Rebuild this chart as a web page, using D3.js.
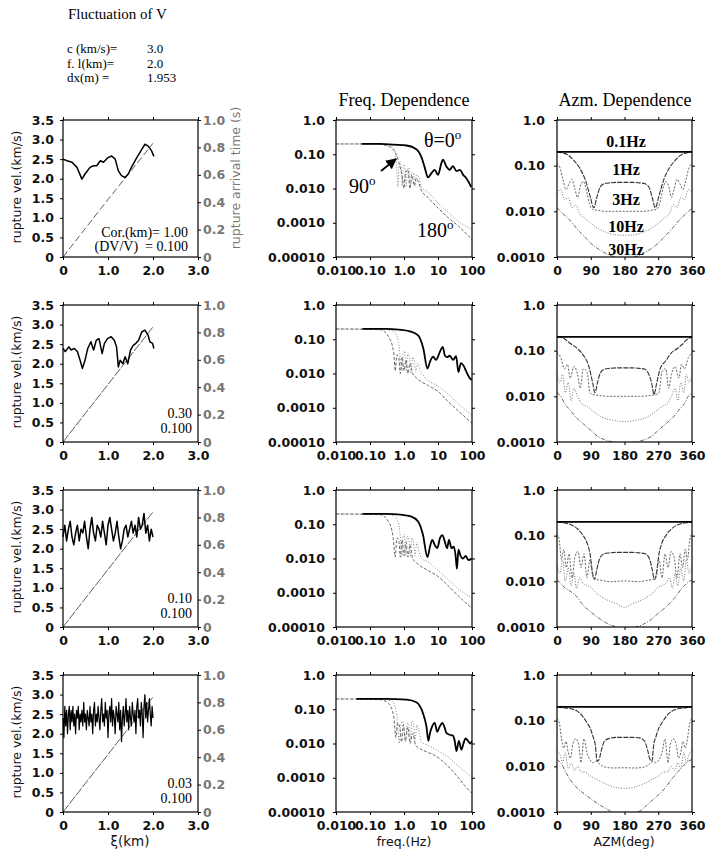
<!DOCTYPE html>
<html>
<head>
<meta charset="utf-8">
<script src="https://cdn.jsdelivr.net/npm/d3@7"></script>
<style>
    body { margin: 0; padding: 0; background: #fff; }
    svg text { font-family: "DejaVu Sans", sans-serif; fill: #111; }
    .serif { font-family: "Liberation Serif", "Times New Roman", serif; fill: #000; }
</style>
</head>
<body>
<svg id="fig" width="717" height="853"></svg>
<script>
// ---- header values ----
var paramNames = ["c (km/s)=", "f. l(km)=", "dx(m) ="];
var paramValues = ["3.0", "2.0", "1.953"];
var corLengths = ["1.00", "0.30", "0.10", "0.03"];
var dvOverV = "0.100";

// ---- rupture velocity (xi km, v km/s) ----
var vel1 = [[0,2.5],[0.09,2.46],[0.2,2.42],[0.31,2.29],[0.42,1.99],[0.49,2.12],[0.6,2.29],[0.68,2.33],
    [0.75,2.33],[0.83,2.46],[0.9,2.42],[1.0,2.54],[1.08,2.58],[1.16,2.5],[1.23,2.2],[1.3,2.08],
    [1.38,2.03],[1.45,2.12],[1.52,2.29],[1.64,2.54],[1.75,2.75],[1.82,2.88],[1.89,2.84],[1.97,2.71],[2.02,2.57]];
var vel2 = [[0,2.39],[0.05,2.31],[0.13,2.43],[0.18,2.35],[0.25,2.39],[0.32,2.31],[0.38,2.09],[0.43,1.88],
    [0.49,2.09],[0.55,2.39],[0.62,2.56],[0.68,2.35],[0.74,2.6],[0.8,2.64],[0.87,2.26],[0.92,2.52],
    [0.99,2.64],[1.07,2.69],[1.14,2.6],[1.19,2.43],[1.23,1.92],[1.27,2.09],[1.33,2.0],[1.38,2.18],
    [1.44,2.0],[1.5,2.35],[1.56,2.47],[1.62,2.52],[1.68,2.6],[1.75,2.81],[1.82,2.86],[1.89,2.73],
    [1.93,2.56],[1.99,2.52],[2.02,2.39]];
var vel3Step = 0.04;
var vel3 = [2.3,2.6,2.2,2.5,2.7,2.3,2.1,2.4,2.6,2.2,
    2.5,2.4,2.7,2.3,2.0,2.5,2.8,2.4,2.2,2.6,
    2.5,2.3,2.7,2.4,2.1,2.6,2.8,2.5,2.2,2.4,
    2.7,2.3,2.0,2.2,2.5,2.6,2.3,2.5,2.7,2.4,
    2.6,2.3,2.8,2.5,2.6,2.9,2.4,2.6,2.2,2.5,2.3];
var vel4Step = 0.02;
var vel4 = [2.4,1.9,2.7,2.2,2.6,2.0,2.5,2.7,2.1,2.6,
    2.3,2.7,2.2,2.5,2.0,2.6,2.4,2.7,2.1,2.5,
    2.3,2.6,2.2,2.8,2.3,2.5,2.1,2.6,2.4,2.2,
    2.7,2.3,2.5,2.0,2.6,2.8,2.2,2.5,2.3,2.7,
    2.4,2.1,2.6,2.9,2.3,2.5,2.2,2.8,2.4,2.6,
    1.9,2.5,2.7,2.3,2.9,2.2,2.6,2.4,2.0,2.7,
    2.5,2.3,2.8,2.1,2.6,1.8,2.4,2.7,2.2,2.5,
    2.9,2.3,2.6,2.1,2.7,2.4,2.2,2.8,2.5,2.3,
    2.6,2.0,2.7,2.9,2.4,2.6,2.2,2.8,2.5,1.9,
    2.7,3.0,2.4,2.8,2.3,2.6,2.9,2.5,2.2,2.7,2.4];

// rupture arrival time (s) along xi
var arrival1 = [[0,0],[0.5,0.21],[1.0,0.42],[1.5,0.625],[2.0,0.83]];
var arrival2 = [[0,0],[0.5,0.21],[1.0,0.42],[1.5,0.63],[2.0,0.84]];
var arrival3 = [[0,0],[0.5,0.21],[1.0,0.42],[1.5,0.63],[2.0,0.84]];
var arrival4 = [[0,0],[0.5,0.21],[1.0,0.42],[1.5,0.63],[2.0,0.84]];

// ---- frequency dependence (Hz, amplitude) ----
var f0_1 = [[0.057,0.2],[0.2,0.2],[0.5,0.19],[1.2,0.18],[2.3,0.14],[3.3,0.08],[4.1,0.04],[5.1,0.021],
    [6.4,0.028],[8,0.035],[10,0.025],[12.6,0.055],[14,0.07],[17.6,0.044],[22,0.035],[27.5,0.045],
    [35,0.032],[44,0.035],[55,0.025],[68,0.02],[95,0.011]];
var f90_1 = [[0.01,0.2],[0.1,0.2],[0.35,0.19],[0.55,0.12],[0.62,0.03],[0.66,0.011],[0.72,0.05],[0.8,0.06],
    [0.88,0.012],[0.95,0.045],[1.05,0.05],[1.15,0.011],[1.25,0.035],[1.4,0.04],[1.55,0.012],[1.7,0.03],
    [1.9,0.028],[2.1,0.012],[2.4,0.025],[2.8,0.02],[3.2,0.011],[5,0.008],[10,0.0038],[20,0.002],
    [40,0.0011],[100,0.00063]];
var f180_1 = [[0.01,0.2],[0.15,0.2],[0.4,0.16],[0.7,0.06],[0.9,0.02],[1.0,0.01],[1.1,0.03],[1.3,0.035],
    [1.5,0.01],[1.7,0.025],[2.0,0.012],[2.3,0.02],[2.7,0.015],[3.2,0.009],[5,0.0055],[10,0.0027],
    [20,0.0014],[40,0.0008],[100,0.00032]];

var f0_2 = [[0.06,0.2],[0.3,0.2],[0.7,0.19],[1.5,0.17],[2.6,0.13],[3.7,0.054],[4.9,0.014],[5.8,0.022],
    [7.2,0.031],[8.7,0.025],[11.5,0.044],[13.8,0.06],[16,0.033],[18.6,0.03],[22,0.033],[28,0.025],
    [34,0.032],[40,0.011],[47,0.02],[56,0.017],[69,0.011],[87,0.0072],[98,0.0065]];
var f90_2 = [[0.01,0.2],[0.2,0.2],[0.5,0.17],[0.7,0.08],[0.8,0.02],[0.88,0.012],[0.95,0.04],[1.05,0.045],
    [1.15,0.012],[1.3,0.04],[1.45,0.03],[1.6,0.01],[1.8,0.03],[2.0,0.025],[2.2,0.011],[2.5,0.02],
    [3,0.012],[4,0.008],[10,0.0042],[20,0.0025],[40,0.0013],[100,0.0006]];
var f180_2 = [[0.01,0.2],[0.2,0.19],[0.35,0.12],[0.5,0.04],[0.55,0.012],[0.62,0.035],[0.7,0.03],
    [0.78,0.01],[0.88,0.03],[1.0,0.012],[1.15,0.025],[1.3,0.01],[1.5,0.02],[1.8,0.01],[2.5,0.007],
    [5,0.0045],[10,0.003],[20,0.0015],[40,0.0008],[100,0.00035]];

var f0_3 = [[0.06,0.2],[0.3,0.2],[0.8,0.19],[1.6,0.17],[2.6,0.12],[3.6,0.05],[4.9,0.011],[5.8,0.022],
    [6.8,0.035],[8,0.025],[9.5,0.02],[11.5,0.04],[13.5,0.048],[16,0.03],[18.5,0.02],[21,0.035],
    [25,0.02],[29,0.022],[33,0.012],[36,0.005],[40,0.018],[46,0.012],[55,0.01],[65,0.012],[78,0.009],[98,0.01]];
var f90_3 = [[0.01,0.2],[0.2,0.2],[0.5,0.18],[0.7,0.1],[0.8,0.03],[0.86,0.011],[0.93,0.04],[1.02,0.05],
    [1.12,0.012],[1.25,0.045],[1.4,0.035],[1.55,0.011],[1.7,0.04],[1.9,0.03],[2.1,0.012],[2.4,0.03],
    [2.8,0.015],[3.3,0.01],[5,0.008],[10,0.0045],[20,0.0024],[40,0.0013],[100,0.0007]];
var f180_3 = [[0.01,0.2],[0.2,0.19],[0.35,0.12],[0.48,0.04],[0.55,0.011],[0.62,0.04],[0.7,0.035],
    [0.78,0.011],[0.88,0.035],[1.0,0.012],[1.15,0.03],[1.3,0.011],[1.5,0.025],[1.8,0.01],[2.5,0.007],
    [5,0.0045],[10,0.003],[20,0.0016],[40,0.0008],[100,0.00035]];

var f0_4 = [[0.04,0.2],[0.3,0.2],[1.2,0.19],[2.3,0.16],[3.6,0.077],[4.6,0.03],[5.2,0.012],[5.8,0.02],
    [6.6,0.03],[8,0.04],[9.5,0.022],[11,0.03],[13.5,0.04],[15.5,0.03],[17.8,0.02],[22,0.018],
    [27.5,0.017],[31,0.012],[35,0.006],[41,0.012],[49,0.0066],[56,0.01],[65,0.014],[76,0.012],[90,0.01],[100,0.012]];
var f90_4 = [[0.01,0.2],[0.2,0.2],[0.45,0.17],[0.6,0.08],[0.68,0.02],[0.72,0.01],[0.8,0.03],[0.9,0.045],
    [1.0,0.03],[1.1,0.011],[1.25,0.04],[1.4,0.03],[1.55,0.011],[1.7,0.045],[1.9,0.04],[2.1,0.012],
    [2.4,0.035],[2.8,0.02],[3.3,0.011],[5,0.009],[8,0.007],[12,0.0055],[20,0.004],[30,0.0028],
    [50,0.0018],[100,0.001]];
var f180_4 = [[0.01,0.2],[0.2,0.19],[0.35,0.15],[0.5,0.06],[0.58,0.015],[0.65,0.04],[0.75,0.03],
    [0.85,0.011],[0.95,0.035],[1.1,0.012],[1.3,0.03],[1.5,0.01],[1.8,0.02],[2.2,0.009],[3,0.007],
    [5,0.0055],[8,0.0045],[15,0.0028],[25,0.0017],[40,0.001],[60,0.0006],[100,0.00035]];

// ---- azimuth dependence (deg, amplitude) ----
var az01_all = [[0,0.2],[360,0.2]];

var az1_1 = [[0,0.2],[15,0.19],[30,0.17],[45,0.13],[60,0.09],[75,0.05],[88,0.022],[98,0.012],[106,0.02],
    [115,0.034],[125,0.04],[140,0.042],[160,0.043],[180,0.043],[200,0.043],[220,0.042],[235,0.04],
    [245,0.034],[254,0.02],[262,0.012],[272,0.022],[285,0.05],[300,0.09],[315,0.13],[330,0.17],[345,0.19],[360,0.2]];
var az3_1 = [[0,0.11],[8,0.09],[16,0.05],[24,0.03],[32,0.04],[40,0.05],[48,0.03],[55,0.02],[62,0.035],
    [70,0.045],[78,0.03],[86,0.015],[95,0.011],[110,0.0105],[130,0.01],[150,0.01],[180,0.01],[210,0.01],
    [230,0.01],[250,0.0105],[265,0.011],[274,0.015],[282,0.03],[290,0.045],[298,0.035],[305,0.02],
    [312,0.03],[320,0.05],[328,0.04],[336,0.03],[344,0.05],[352,0.09],[360,0.11]];
var az10_1 = [[0,0.025],[10,0.03],[20,0.018],[30,0.02],[40,0.012],[50,0.014],[60,0.009],[75,0.007],
    [90,0.0055],[110,0.0042],[130,0.0035],[150,0.0031],[180,0.003],[210,0.0031],[230,0.0035],
    [250,0.0042],[270,0.0055],[285,0.007],[300,0.009],[310,0.014],[320,0.012],[330,0.02],[340,0.018],
    [350,0.03],[360,0.025]];
var az30_1 = [[0,0.012],[15,0.009],[30,0.007],[45,0.005],[60,0.0036],[75,0.0027],[90,0.002],[110,0.0015],
    [130,0.0012],[155,0.001],[180,0.00095],[205,0.001],[230,0.0012],[250,0.0015],[270,0.002],[285,0.0027],
    [300,0.0036],[315,0.005],[330,0.007],[345,0.009],[360,0.012]];

var az1_2 = [[0,0.2],[15,0.19],[35,0.145],[55,0.11],[70,0.08],[85,0.045],[95,0.02],[101,0.012],[108,0.02],
    [115,0.032],[125,0.039],[140,0.041],[160,0.042],[180,0.042],[200,0.042],[220,0.041],[235,0.039],
    [245,0.03],[252,0.02],[259,0.011],[265,0.018],[275,0.04],[290,0.06],[305,0.09],[320,0.11],
    [335,0.14],[345,0.17],[360,0.2]];
var az3_2 = [[0,0.09],[10,0.07],[20,0.04],[28,0.05],[35,0.025],[45,0.045],[55,0.03],[62,0.015],[70,0.04],
    [80,0.035],[88,0.012],[95,0.011],[110,0.0105],[140,0.01],[180,0.01],[220,0.01],[250,0.0105],
    [265,0.011],[272,0.012],[280,0.035],[290,0.04],[298,0.015],[305,0.03],[315,0.045],[325,0.025],
    [332,0.05],[340,0.04],[350,0.07],[360,0.09]];
var az10_2 = [[0,0.03],[8,0.02],[15,0.03],[22,0.012],[30,0.02],[38,0.008],[45,0.015],[55,0.01],[65,0.007],
    [80,0.006],[100,0.0045],[120,0.0035],[150,0.003],[180,0.0028],[210,0.003],[240,0.0035],[260,0.0045],
    [280,0.006],[295,0.007],[305,0.01],[315,0.015],[322,0.008],[330,0.02],[338,0.012],[345,0.03],
    [352,0.02],[360,0.03]];
var az30_2 = [[0,0.012],[10,0.01],[20,0.007],[35,0.005],[50,0.0035],[70,0.0025],[90,0.0018],[110,0.0013],
    [130,0.0011],[150,0.001],[180,0.00095],[210,0.001],[230,0.0011],[250,0.0013],[270,0.0018],
    [290,0.0025],[310,0.0035],[325,0.005],[340,0.007],[350,0.01],[360,0.012]];

var az1_3 = [[0,0.2],[20,0.19],[40,0.17],[55,0.14],[70,0.1],[80,0.07],[88,0.04],[95,0.015],[100,0.011],
    [106,0.018],[114,0.032],[125,0.04],[140,0.042],[160,0.043],[180,0.043],[200,0.043],[220,0.042],
    [235,0.04],[246,0.032],[254,0.018],[260,0.011],[265,0.015],[272,0.04],[280,0.07],[290,0.1],
    [305,0.14],[320,0.17],[340,0.19],[360,0.2]];
var az3_3 = [[0,0.11],[6,0.08],[12,0.03],[18,0.05],[25,0.02],[32,0.04],[40,0.012],[48,0.035],[56,0.045],
    [64,0.02],[72,0.04],[80,0.012],[88,0.03],[96,0.012],[105,0.011],[120,0.0105],[140,0.0098],[160,0.01],
    [180,0.0102],[200,0.01],[220,0.0098],[240,0.0105],[255,0.011],[264,0.012],[272,0.03],[280,0.012],
    [288,0.04],[296,0.02],[304,0.045],[312,0.035],[320,0.012],[328,0.04],[335,0.02],[342,0.05],
    [348,0.03],[354,0.08],[360,0.11]];
var az10_3 = [[0,0.023],[8,0.015],[15,0.03],[22,0.01],[30,0.02],[38,0.008],[45,0.015],[52,0.007],[60,0.012],
    [70,0.009],[80,0.008],[90,0.0075],[100,0.006],[120,0.0045],[140,0.0037],[160,0.0032],[180,0.0027],
    [200,0.0032],[220,0.0037],[240,0.0045],[260,0.006],[270,0.0075],[280,0.008],[290,0.009],[300,0.012],
    [308,0.007],[315,0.015],[322,0.008],[330,0.02],[338,0.01],[345,0.03],[352,0.015],[360,0.023]];
var az30_3 = [[0,0.011],[15,0.008],[30,0.0065],[52,0.0047],[70,0.003],[88,0.0022],[110,0.0016],[133,0.0012],
    [159,0.001],[180,0.0009],[200,0.00095],[225,0.0011],[248,0.0014],[270,0.002],[292,0.0028],
    [315,0.0045],[337,0.0077],[360,0.011]];

var az1_4 = [[0,0.2],[20,0.19],[40,0.18],[55,0.16],[70,0.12],[80,0.09],[88,0.07],[96,0.045],[102,0.03],
    [107,0.013],[112,0.014],[118,0.022],[126,0.035],[140,0.041],[160,0.043],[180,0.043],[200,0.043],
    [220,0.042],[234,0.035],[242,0.022],[248,0.014],[253,0.013],[258,0.03],[264,0.045],[272,0.07],
    [280,0.09],[290,0.12],[305,0.16],[320,0.18],[340,0.19],[360,0.2]];
var az3_4 = [[0,0.11],[6,0.09],[12,0.04],[18,0.025],[24,0.035],[30,0.02],[36,0.015],[42,0.03],[50,0.04],
    [58,0.03],[64,0.012],[72,0.04],[80,0.02],[88,0.014],[96,0.012],[104,0.013],[112,0.0115],[130,0.0095],
    [150,0.0092],[180,0.0093],[210,0.0092],[230,0.0095],[248,0.0115],[256,0.013],[264,0.012],[272,0.014],
    [280,0.02],[288,0.04],[296,0.012],[302,0.03],[310,0.04],[318,0.03],[324,0.015],[330,0.02],
    [336,0.035],[342,0.025],[348,0.04],[354,0.09],[360,0.11]];
var az10_4 = [[0,0.022],[8,0.018],[15,0.012],[22,0.02],[30,0.009],[38,0.012],[46,0.008],[55,0.01],
    [65,0.0075],[75,0.0075],[88,0.0062],[100,0.0055],[120,0.0045],[140,0.0038],[160,0.0034],[180,0.0033],
    [200,0.0034],[220,0.0038],[240,0.0045],[260,0.0055],[272,0.0062],[285,0.0075],[295,0.0075],
    [305,0.01],[314,0.008],[322,0.012],[330,0.009],[338,0.02],[345,0.012],[352,0.018],[360,0.022]];
var az30_4 = [[0,0.014],[10,0.012],[25,0.007],[45,0.004],[65,0.0028],[88,0.002],[110,0.0015],[130,0.0012],
    [150,0.00098],[170,0.0009],[190,0.0009],[210,0.00098],[225,0.0011],[239,0.0014],[260,0.002],
    [280,0.0028],[292,0.0037],[315,0.0065],[336,0.01],[350,0.013],[360,0.014]];

// ---- ticks ----
var velTicks = [0, 0.5, 1, 1.5, 2, 2.5, 3, 3.5];
var velTickLabels = ["0", "0.5", "1.0", "1.5", "2.0", "2.5", "3.0", "3.5"];
var timeTicks = [0, 0.2, 0.4, 0.6, 0.8, 1.0];
var timeTickLabels = ["0", "0.2", "0.4", "0.6", "0.8", "1.0"];
var xiTicks = [0, 1, 2, 3];
var xiTickLabels = ["0", "1.0", "2.0", "3.0"];
var freqTicks = [0.01, 0.1, 1, 10, 100];
var freqTickLabels = ["0.010", "0.10", "1.0", "10", "100"];
var ampTicks = [1, 0.1, 0.01, 0.001, 0.0001];
var ampTickLabels = ["1.0", "0.10", "0.010", "0.0010", "0.00010"];
var azmTicks = [0, 90, 180, 270, 360];
var azmTickLabels = ["0", "90", "180", "270", "360"];
var azAmpTicks = [1, 0.1, 0.01, 0.001];
var azAmpTickLabels = ["1.0", "0.10", "0.010", "0.0010"];

var velRows = [vel1, vel2,
    vel3.map(function (v, i) { return [i * vel3Step, v]; }),
    vel4.map(function (v, i) { return [i * vel4Step, v]; })];
var arrivalRows = [arrival1, arrival2, arrival3, arrival4];
var freqRows = [[f0_1, f90_1, f180_1], [f0_2, f90_2, f180_2], [f0_3, f90_3, f180_3], [f0_4, f90_4, f180_4]];
var azmRows = [[az1_1, az3_1, az10_1, az30_1], [az1_2, az3_2, az10_2, az30_2],
    [az1_3, az3_3, az10_3, az30_3], [az1_4, az3_4, az10_4, az30_4]];

// ---- layout ----
var ROW_TOP = [120, 305, 490, 675];
var PANEL_H = 137;
var VEL_X = [63, 198], FREQ_X = [336, 472], AZM_X = [557, 692];
var TICK_FONT = 12.5;

var svg = d3.select("#fig");
svg.append("rect").attr("width", 717).attr("height", 853).attr("fill", "#fff");

var defs = svg.append("defs");
defs.append("marker").attr("id", "arrowhead")
    .attr("viewBox", "0 0 10 10").attr("refX", 9).attr("refY", 5)
    .attr("markerWidth", 6).attr("markerHeight", 6).attr("orient", "auto")
    .append("path").attr("d", "M0,0 L10,5 L0,10 z").attr("fill", "#000");

function addAxis(g, axis, tx, ty, vals, labels, pad, color) {
    var a = g.append("g").attr("transform", "translate(" + tx + "," + ty + ")")
        .call(axis.tickValues(vals)
            .tickFormat(function (d, i) { return labels ? labels[i] : ""; })
            .tickSizeInner(3).tickSizeOuter(0).tickPadding(pad));
    a.select(".domain").remove();
    a.attr("font-family", "DejaVu Sans").attr("font-size", TICK_FONT).attr("font-weight", "bold");
    a.selectAll("text").style("fill", color || "#111");
    return a;
}

function frame(g, x0, x1, top) {
    g.append("rect").attr("x", x0).attr("y", top).attr("width", x1 - x0).attr("height", PANEL_H)
        .attr("fill", "none").attr("stroke", "#000").attr("stroke-width", 1.2);
}

function clip(id, x0, x1, top) {
    defs.append("clipPath").attr("id", id).append("rect")
        .attr("x", x0).attr("y", top).attr("width", x1 - x0).attr("height", PANEL_H);
}

ROW_TOP.forEach(function (top, r) {
    var bottom = top + PANEL_H;

    // --- left: rupture velocity ---
    var gv = svg.append("g");
    var x = d3.scaleLinear().domain([0, 3]).range(VEL_X);
    var y = d3.scaleLinear().domain([0, 3.5]).range([bottom, top]);
    var yt = d3.scaleLinear().domain([0, 1]).range([bottom, top]);
    addAxis(gv, d3.axisLeft(y), VEL_X[0], 0, velTicks, velTickLabels, 6);
    addAxis(gv, d3.axisRight(yt), VEL_X[1], 0, timeTicks, timeTickLabels, 2, "#777");
    addAxis(gv, d3.axisBottom(x), 0, bottom, xiTicks, xiTickLabels, 6);
    addAxis(gv, d3.axisTop(x), 0, top, xiTicks, null, 0);
    gv.append("path").datum(arrivalRows[r])
        .attr("d", d3.line().x(function (d) { return x(d[0]); }).y(function (d) { return yt(d[1]); }))
        .attr("fill", "none").attr("stroke", "#333").attr("stroke-width", 0.8)
        .attr("stroke-dasharray", r === 0 ? "7,3" : "9,1.5");
    gv.append("path").datum(velRows[r])
        .attr("d", d3.line().x(function (d) { return x(d[0]); }).y(function (d) { return y(d[1]); }))
        .attr("fill", "none").attr("stroke", "#000").attr("stroke-width", r === 3 ? 1.2 : 1.5)
        .attr("stroke-linejoin", "round");
    frame(gv, VEL_X[0], VEL_X[1], top);
    gv.append("text").attr("transform", "translate(21," + (top + 67) + ") rotate(-90)")
        .attr("text-anchor", "middle").attr("font-size", 12.5)
        .text("rupture vel.(km/s)");
    if (r === 0) {
        gv.append("text").attr("class", "serif").attr("x", 188).attr("y", top + 117)
            .attr("text-anchor", "end").attr("font-size", 14).text("Cor.(km)= " + corLengths[0]);
        gv.append("text").attr("class", "serif").attr("x", 188).attr("y", top + 131)
            .attr("text-anchor", "end").attr("font-size", 14).text("(DV/V)\u00a0\u00a0= " + dvOverV);
        gv.append("text").attr("transform", "translate(240," + (top + 58) + ") rotate(-90)")
            .attr("text-anchor", "middle").attr("font-size", 12.5).style("fill", "#777")
            .text("rupture arrival time (s)");
    } else {
        gv.append("text").attr("class", "serif").attr("x", 192).attr("y", top + 113)
            .attr("text-anchor", "end").attr("font-size", 14).text(corLengths[r]);
        gv.append("text").attr("class", "serif").attr("x", 192).attr("y", top + 128)
            .attr("text-anchor", "end").attr("font-size", 14).text(dvOverV);
    }

    // --- middle: frequency dependence ---
    var gf = svg.append("g");
    var fx = d3.scaleLog().domain([0.01, 100]).range(FREQ_X);
    var fy = d3.scaleLog().domain([0.0001, 1]).range([bottom, top]);
    addAxis(gf, d3.axisLeft(fy), FREQ_X[0], 0, ampTicks, ampTickLabels, 8);
    addAxis(gf, d3.axisRight(fy), FREQ_X[1], 0, ampTicks, null, 0);
    addAxis(gf, d3.axisBottom(fx), 0, bottom, freqTicks, freqTickLabels, 6);
    addAxis(gf, d3.axisTop(fx), 0, top, freqTicks, null, 0);
    clip("cf" + r, FREQ_X[0], FREQ_X[1], top);
    var fline = d3.line().x(function (d) { return fx(d[0]); }).y(function (d) { return fy(d[1]); })
        .curve(d3.curveMonotoneX);
    var fstyles = [
        { stroke: "#000", width: 1.8, dash: null },
        { stroke: "#888", width: 1.0, dash: "1,1.8" },
        { stroke: "#555", width: 0.9, dash: "3,1.8" }
    ];
    [2, 1, 0].forEach(function (k) {
        var s = fstyles[k];
        gf.append("path").datum(freqRows[r][k]).attr("d", fline).attr("clip-path", "url(#cf" + r + ")")
            .attr("fill", "none").attr("stroke", s.stroke).attr("stroke-width", s.width)
            .attr("stroke-dasharray", s.dash);
    });
    frame(gf, FREQ_X[0], FREQ_X[1], top);

    // --- right: azimuth dependence ---
    var ga = svg.append("g");
    var ax = d3.scaleLinear().domain([0, 360]).range(AZM_X);
    var ay = d3.scaleLog().domain([0.001, 1]).range([bottom, top]);
    addAxis(ga, d3.axisLeft(ay), AZM_X[0], 0, azAmpTicks, azAmpTickLabels, 9);
    addAxis(ga, d3.axisRight(ay), AZM_X[1], 0, azAmpTicks, null, 0);
    addAxis(ga, d3.axisBottom(ax), 0, bottom, azmTicks, azmTickLabels, 6);
    addAxis(ga, d3.axisTop(ax), 0, top, azmTicks, null, 0);
    clip("ca" + r, AZM_X[0], AZM_X[1], top);
    var aline = d3.line().x(function (d) { return ax(d[0]); }).y(function (d) { return ay(d[1]); })
        .curve(d3.curveMonotoneX);
    var astyles = [
        { stroke: "#333", width: 1.1, dash: "5,1.2" },
        { stroke: "#666", width: 1.0, dash: "2,1.5" },
        { stroke: "#777", width: 1.0, dash: "1,1.6" },
        { stroke: "#555", width: 0.9, dash: "4,1.5,1,1.5" }
    ];
    azmRows[r].forEach(function (series, k) {
        var s = astyles[k];
        ga.append("path").datum(series).attr("d", aline).attr("clip-path", "url(#ca" + r + ")")
            .attr("fill", "none").attr("stroke", s.stroke).attr("stroke-width", s.width)
            .attr("stroke-dasharray", s.dash);
    });
    ga.append("path").datum(az01_all).attr("d", aline)
        .attr("fill", "none").attr("stroke", "#000").attr("stroke-width", 1.9);
    frame(ga, AZM_X[0], AZM_X[1], top);
});

// ---- header text ----
svg.append("text").attr("class", "serif").attr("x", 68).attr("y", 19).attr("font-size", 15)
    .text("Fluctuation of V");
paramNames.forEach(function (name, i) {
    svg.append("text").attr("class", "serif").attr("x", 67).attr("y", 53 + i * 14.5)
        .attr("font-size", 13).text(name);
    svg.append("text").attr("class", "serif").attr("x", 147).attr("y", 53 + i * 14.5)
        .attr("font-size", 13).text(paramValues[i]);
});
svg.append("text").attr("class", "serif").attr("x", 404).attr("y", 106).attr("text-anchor", "middle")
    .attr("font-size", 18).text("Freq. Dependence");
svg.append("text").attr("class", "serif").attr("x", 625).attr("y", 106).attr("text-anchor", "middle")
    .attr("font-size", 18).text("Azm. Dependence");

// ---- annotations, row 1 ----
function degText(x, y, main) {
    var t = svg.append("text").attr("class", "serif").attr("x", x).attr("y", y).attr("font-size", 20);
    t.append("tspan").text(main);
    t.append("tspan").attr("font-size", 13).attr("dy", -8).text("o");
}
degText(424, 147, "θ=0");
degText(349, 193, "90");
degText(417, 237, "180");
svg.append("line").attr("x1", 381).attr("y1", 171).attr("x2", 396).attr("y2", 159)
    .attr("stroke", "#000").attr("stroke-width", 1.8).attr("marker-end", "url(#arrowhead)");

var hzLabels = [["0.1Hz", 147], ["1Hz", 175], ["3Hz", 205], ["10Hz", 232], ["30Hz", 255]];
hzLabels.forEach(function (h) {
    svg.append("text").attr("class", "serif").attr("x", 626).attr("y", h[1])
        .attr("text-anchor", "middle").attr("font-size", 16).attr("font-weight", "bold").text(h[0]);
});

// ---- bottom axis titles ----
svg.append("text").attr("x", 130).attr("y", 846).attr("text-anchor", "middle").attr("font-size", 13.5)
    .text("ξ(km)");
svg.append("text").attr("x", 404).attr("y", 846).attr("text-anchor", "middle").attr("font-size", 12.5)
    .text("freq.(Hz)");
svg.append("text").attr("x", 624).attr("y", 846).attr("text-anchor", "middle").attr("font-size", 12.5)
    .text("AZM(deg)");
</script>
</body>
</html>
